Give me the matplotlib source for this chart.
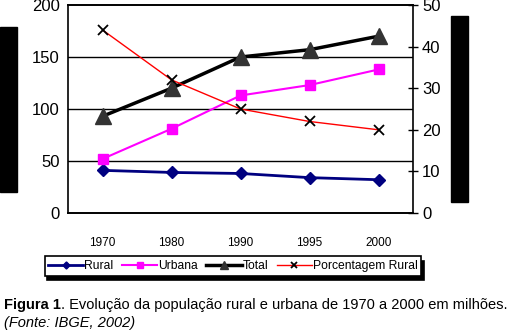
import numpy as np
import matplotlib.pyplot as plt
from matplotlib.patches import Rectangle

plt.rcParams['font.family'] = ['Liberation Sans', 'DejaVu Sans']

#%%

anos = ['1970', '1980', '1990', '1995', '2000']
rural = [41, 39, 38, 34, 32]
urbana = [52, 81, 113, 123, 138]
total = [93, 120, 150, 157, 170]
porc_rural = [44, 32, 25, 22, 20]

#%%

W, H = 531, 331
fig = plt.figure(figsize=(W / 100, H / 100), dpi=100)
ax = fig.add_axes([68 / W, 1 - 213 / H, (413 - 68) / W, 208 / H])
ax2 = ax.twinx()

x = np.arange(len(anos))

l1, = ax.plot(x, rural, color='#000080', lw=2, marker='D', ms=6.5,
              markerfacecolor='#000080', markeredgecolor='#000080')
l2, = ax.plot(x, urbana, color='#ff00ff', lw=1.5, marker='s', ms=7.5,
              markerfacecolor='#ff00ff', markeredgecolor='#ff00ff')
l3, = ax.plot(x, total, color='black', lw=2.5, marker='^', ms=11,
              markerfacecolor='#333333', markeredgecolor='#333333')
l4, = ax2.plot(x, porc_rural, color='red', lw=1, marker='x', ms=7,
               markeredgecolor='black', mew=1.3)

ax.set_xlim(-0.5, len(anos) - 0.5)
ax.set_ylim(0, 200)
ax2.set_ylim(0, 50)
ax.set_yticks([0, 50, 100, 150, 200])
ax2.set_yticks([0, 10, 20, 30, 40, 50])
for yy in [50, 100, 150]:
    ax.axhline(yy, color='black', lw=1, zorder=0)

ax.set_xticks(x)
ax.set_xticklabels(anos, fontsize=8.5)
ax.tick_params(axis='x', length=0, pad=17)
ax.tick_params(axis='y', length=0, labelsize=12, pad=6)
ax2.tick_params(axis='y', direction='inout', length=7, width=1, labelsize=12, pad=3)

for a in (ax, ax2):
    for s in a.spines.values():
        s.set_linewidth(1.2)
ax.spines['right'].set_visible(False)
ax2.spines['left'].set_visible(False)

# barras pretas laterais
fig.patches.append(Rectangle((0, 1 - 192 / H), 17 / W, 165 / H,
                             transform=fig.transFigure, color='black'))
fig.patches.append(Rectangle((451 / W, 1 - 202 / H), 17 / W, 186 / H,
                             transform=fig.transFigure, color='black'))

leg = fig.legend([l1, l2, l3, l4], ['Rural', 'Urbana', 'Total', 'Porcentagem Rural'],
                 loc='center', bbox_to_anchor=(233 / W, 1 - 266 / H), ncol=4,
                 fontsize=8.7, frameon=True, fancybox=False,
                 shadow={'color': 'black', 'alpha': 1, 'ox': 2, 'oy': -3},
                 handlelength=2.9, handletextpad=0.1, columnspacing=0.7,
                 borderpad=0.3, markerscale=0.55)
leg.get_frame().set_edgecolor('black')
leg.get_frame().set_linewidth(1.2)

t1 = fig.text(4 / W, 1 - 309 / H, 'Figura 1', fontsize=10.5, fontweight='bold')
fig.canvas.draw()
bb = t1.get_window_extent()
fig.text(bb.x1 / W, 1 - 309 / H, '. Evolução da população rural e urbana de 1970 a 2000 em milhões.',
         fontsize=10.5)
fig.text(4 / W, 1 - 327 / H, '(Fonte: IBGE, 2002)', fontsize=10.5, style='italic')

plt.savefig('out.png', dpi=100)
